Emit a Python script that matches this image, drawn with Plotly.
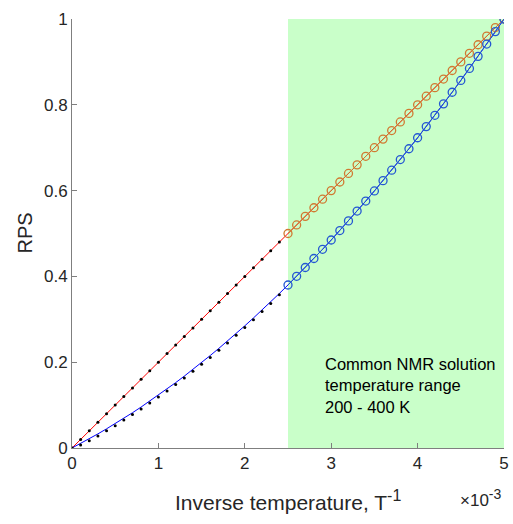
import plotly.graph_objects as go

# x in units of 1e-3 (inverse temperature, 1/K)
x_all = [0.0, 0.1, 0.2, 0.3, 0.4, 0.5, 0.6, 0.7, 0.8, 0.9, 1.0, 1.1, 1.2, 1.3, 1.4, 1.5, 1.6, 1.7,
         1.8, 1.9, 2.0, 2.1, 2.2, 2.3, 2.4, 2.5, 2.6, 2.7, 2.8, 2.9, 3.0, 3.1, 3.2, 3.3, 3.4, 3.5,
         3.6, 3.7, 3.8, 3.9, 4.0, 4.1, 4.2, 4.3, 4.4, 4.5, 4.6, 4.7, 4.8, 4.9, 5.0]
red_line = [0.00, 0.02, 0.04, 0.06, 0.08, 0.10, 0.12, 0.14, 0.16, 0.18, 0.20, 0.22, 0.24, 0.26,
            0.28, 0.30, 0.32, 0.34, 0.36, 0.38, 0.40, 0.42, 0.44, 0.46, 0.48, 0.50, 0.52, 0.54,
            0.56, 0.58, 0.60, 0.62, 0.64, 0.66, 0.68, 0.70, 0.72, 0.74, 0.76, 0.78, 0.80, 0.82,
            0.84, 0.86, 0.88, 0.90, 0.92, 0.94, 0.96, 0.98, 1.00]
blue_line = [0.0, 0.0106, 0.0216, 0.0329, 0.0447, 0.0568, 0.0693, 0.0822, 0.0955, 0.1092, 0.1232,
             0.1376, 0.1524, 0.1676, 0.1832, 0.1992, 0.2156, 0.2323, 0.2494, 0.2669, 0.2848,
             0.3031, 0.3217, 0.3408, 0.3602, 0.38, 0.4002, 0.4208, 0.4417, 0.4631, 0.4848,
             0.5069, 0.5294, 0.5523, 0.5756, 0.5992, 0.6232, 0.6476, 0.6724, 0.6976, 0.7232,
             0.7492, 0.7755, 0.8022, 0.8293, 0.8568, 0.8847, 0.9129, 0.9416, 0.9706, 1.0]

# low-temperature side: black dots (0 .. 2.4)
x_dots = [0.0, 0.1, 0.2, 0.3, 0.4, 0.5, 0.6, 0.7, 0.8, 0.9, 1.0, 1.1, 1.2, 1.3, 1.4, 1.5, 1.6,
          1.7, 1.8, 1.9, 2.0, 2.1, 2.2, 2.3, 2.4]
red_dots = [0.00, 0.02, 0.04, 0.06, 0.08, 0.10, 0.12, 0.14, 0.16, 0.18, 0.20, 0.22, 0.24, 0.26,
            0.28, 0.30, 0.32, 0.34, 0.36, 0.38, 0.40, 0.42, 0.44, 0.46, 0.48]
blue_dots = [0.0, 0.007, 0.017, 0.028, 0.040, 0.052, 0.065, 0.078, 0.091, 0.105, 0.119, 0.133,
             0.148, 0.163, 0.179, 0.195, 0.211, 0.228, 0.245, 0.263, 0.281, 0.299, 0.318,
             0.337, 0.357]

# NMR range: open circles (2.5 .. 5.0)
x_circ = [2.5, 2.6, 2.7, 2.8, 2.9, 3.0, 3.1, 3.2, 3.3, 3.4, 3.5, 3.6, 3.7, 3.8, 3.9, 4.0, 4.1,
          4.2, 4.3, 4.4, 4.5, 4.6, 4.7, 4.8, 4.9, 5.0]
red_circ = [0.50, 0.52, 0.54, 0.56, 0.58, 0.60, 0.62, 0.64, 0.66, 0.68, 0.70, 0.72, 0.74, 0.76,
            0.78, 0.80, 0.82, 0.84, 0.86, 0.88, 0.90, 0.92, 0.94, 0.96, 0.98, 1.00]
blue_circ = [0.38, 0.4002, 0.4208, 0.4417, 0.4631, 0.4848, 0.5069, 0.5294, 0.5523, 0.5756,
             0.5992, 0.6232, 0.6476, 0.6724, 0.6976, 0.7232, 0.7492, 0.7755, 0.8022, 0.8293,
             0.8568, 0.8847, 0.9129, 0.9416, 0.9706, 1.0]

x_ticks = [0, 1, 2, 3, 4, 5]
x_tick_text = ["0", "1", "2", "3", "4", "5"]
y_ticks = [0, 0.2, 0.4, 0.6, 0.8, 1]
y_tick_text = ["0", "0.2", "0.4", "0.6", "0.8", "1"]
nmr_range = [2.5, 5.0]

FONT = "Arial, Liberation Sans, Helvetica, sans-serif"
TXT = "#262626"
AX = "#7f7f7f"
RED_IN_GREEN = "#d07a32"
BLUE_IN_GREEN = "#2458d2"

fig = go.Figure()
fig.add_trace(go.Scatter(x=x_all, y=red_line, mode="lines",
                         line=dict(color="#ff0000", width=1)))
fig.add_trace(go.Scatter(x=x_all, y=blue_line, mode="lines",
                         line=dict(color="#0000ff", width=1)))
fig.add_trace(go.Scatter(x=x_dots, y=red_dots, mode="markers",
                         marker=dict(color="black", size=3)))
fig.add_trace(go.Scatter(x=x_dots, y=blue_dots, mode="markers",
                         marker=dict(color="black", size=3)))
fig.add_trace(go.Scatter(x=x_circ, y=red_circ, mode="lines+markers",
                         line=dict(color=RED_IN_GREEN, width=1),
                         marker=dict(symbol="circle-open", size=8,
                                     line=dict(color=RED_IN_GREEN, width=1.3))))
fig.add_trace(go.Scatter(x=x_circ, y=blue_circ, mode="lines+markers",
                         line=dict(color=BLUE_IN_GREEN, width=1),
                         marker=dict(symbol="circle-open", size=8,
                                     line=dict(color=BLUE_IN_GREEN, width=1.3))))

fig.add_shape(type="rect", xref="x", yref="y", x0=nmr_range[0], x1=nmr_range[1], y0=0, y1=1,
              fillcolor="rgba(0,255,0,0.21)", line=dict(width=0), layer="below")

fig.add_annotation(x=2.9, y=0.146, xref="x", yref="y", xanchor="left", yanchor="middle",
                   align="left", showarrow=False,
                   text="Common NMR solution<br>temperature range<br>200 - 400 K",
                   font=dict(family=FONT, size=16.5, color="black"))

fig.add_annotation(x=1, y=0, xref="paper", yref="paper", xanchor="right", yanchor="middle",
                   yshift=-50, showarrow=False,
                   text="×10<sup><span style='font-size:14px'>-3</span></sup>",
                   font=dict(family=FONT, size=17, color=TXT))

fig.add_annotation(x=0.5, y=0, xref="paper", yref="paper", xanchor="center", yanchor="middle",
                   yshift=-52, showarrow=False,
                   text="Inverse temperature, T<sup><span style='font-size:16px'>-1</span></sup>",
                   font=dict(family=FONT, size=21, color=TXT))

fig.add_annotation(x=0, y=0.5, xref="paper", yref="paper", xanchor="center", yanchor="middle",
                   xshift=-48, textangle=-90, showarrow=False, text="RPS",
                   font=dict(family=FONT, size=20, color=TXT))

fig.update_layout(
    width=519, height=524, autosize=False,
    margin=dict(l=72, r=10, t=16, b=76),
    paper_bgcolor="white", plot_bgcolor="white",
    showlegend=False,
    font=dict(family=FONT, size=17, color=TXT),
    xaxis=dict(range=[0, 5], tickvals=x_ticks, ticktext=x_tick_text,
               showgrid=False, zeroline=False, showline=True, linecolor=AX,
               linewidth=1, ticks="inside", ticklen=5, tickcolor=AX,
               ticklabeloverflow="allow",
               tickfont=dict(size=17, color=TXT)),
    yaxis=dict(range=[0, 1], tickvals=y_ticks, ticktext=y_tick_text,
               showgrid=False, zeroline=False, showline=True, linecolor=AX,
               linewidth=1, ticks="inside", ticklen=5, tickcolor=AX,
               ticklabeloverflow="allow",
               tickfont=dict(size=17, color=TXT)),
)

fig.write_html("out.html",
               config={"responsive": False, "displayModeBar": False},
               post_script="document.body.style.margin='0';"
                           "document.body.style.overflow='hidden';")
